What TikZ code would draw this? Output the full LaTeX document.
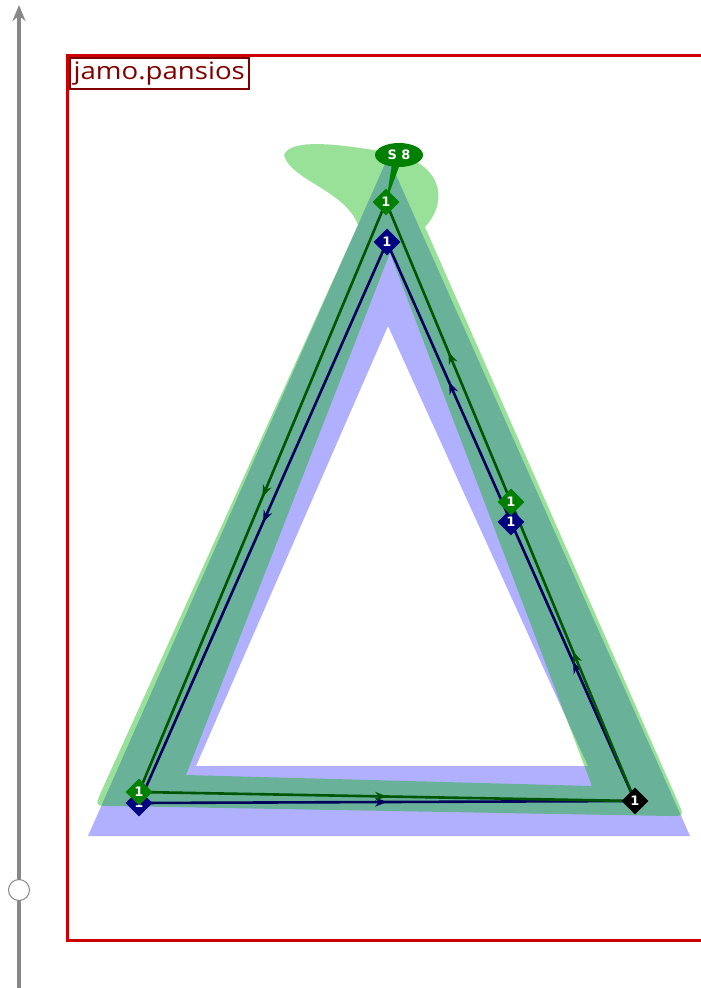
\documentclass[tikz,border=0pt]{standalone}
\usepackage{fontspec}
\setmainfont{DejaVu Sans}
\newfontfamily\labelfont{Open Sans}
\usetikzlibrary{arrows.meta,decorations.markings,shapes.geometric,calc}
\definecolor{bandblue}{RGB}{176,176,255}
\definecolor{bandgreen}{RGB}{0,180,0}
\definecolor{glinec}{RGB}{0,85,0}
\definecolor{blinec}{RGB}{0,0,90}
\definecolor{gnode}{RGB}{0,128,0}
\definecolor{bnode}{RGB}{0,0,128}
\definecolor{framered}{RGB}{204,0,0}
\definecolor{labelred}{RGB}{128,0,0}
\definecolor{axisgray}{RGB}{136,136,136}
\pgfdeclarelayer{bands}
\pgfdeclarelayer{lines}
\pgfsetlayers{bands,lines,main}
\begin{document}
\begin{tikzpicture}[x=1pt,y=-1pt,
  dmd/.style={diamond, inner sep=0pt, minimum size=27pt, text=white,
    font=\bfseries\fontsize{13}{13}\selectfont},
  gdmd/.style={dmd, fill=gnode},
  bdmd/.style={dmd, fill=bnode},
  kdmd/.style={dmd, fill=black},
  midarrow/.style={postaction={decorate}, decoration={markings,
    mark=at position 0.5 with {\arrow{Stealth[length=12pt,width=9pt]}}}},
  gline/.style={draw=glinec, line width=2.6pt, midarrow},
  bline/.style={draw=blinec, line width=2.6pt, midarrow},
]
\useasboundingbox (0,0) rectangle (701,988);

% nodes
\node[bdmd] (bT) at (387,242) {1};
\node[bdmd] (bR) at (511,522) {1};
\node[bdmd] (bL) at (139,803) {1};
\node[kdmd] (k) at (635,801) {1};
\node[gdmd] (gT) at (386,202) {1};
\node[gdmd] (gR) at (511,502) {1};
\node[gdmd] (gL) at (139,792) {1};
\node[ellipse, fill=gnode, text=white, minimum width=48pt, minimum height=24pt,
  inner sep=0pt, font=\bfseries\fontsize{13}{13}\selectfont] (s8) at (399,155) {S 8};

% bands
\begin{pgfonlayer}{bands}
\fill[bandblue, even odd rule]
  (388,157) -- (88,836) -- (690,836) -- cycle
  (388,326) -- (196,766) -- (588,766) -- cycle;
\fill[bandgreen, fill opacity=0.4, even odd rule]
  (358,225) -- (101,792) .. controls (95,806) .. (112,806)
  -- (670,816) .. controls (684,816) .. (678,802)
  -- (425,227) .. controls (450,200) and (442,160) .. (385,152)
  .. controls (340,144) and (290,138) .. (284,155)
  .. controls (290,180) and (345,190) .. (358,225) -- cycle
  (390,253) -- (186,775) -- (592,786) -- cycle;
\end{pgfonlayer}

% lines
\begin{pgfonlayer}{lines}
\draw[bline] (bT.center) -- (bL.center);
\draw[bline] (bL.center) -- (k.center);
\draw[bline] (k.center) -- (bR.center);
\draw[bline] (bR.center) -- (bT.center);
\draw[gline] (gT.center) -- (gL.center);
\draw[gline] (gL.center) -- (k.center);
\draw[gline] (k.center) -- (gR.center);
\draw[gline] (gR.center) -- (gT.center);
\fill[gnode] ($(s8.center)+(-7,9)$) -- ($(s8.center)+(1,9)$) -- (gT.center) -- cycle;
\end{pgfonlayer}

% frame
\draw[framered, line width=3pt] (705,55) -- (67,55) -- (67,940) -- (705,940);
\node[anchor=north west, draw=labelred, line width=1.5pt, fill=white, text=labelred,
  inner sep=0pt, minimum width=179pt, minimum height=31pt,
  font=\labelfont\fontsize{24}{24}\selectfont]
  (lbl) at (69,57) {\scalebox{1.15}[1]{jamo.pansios}};

% axis
\coordinate (axbot) at (19,990);
\coordinate (axtop) at (19,5);
\draw[axisgray, line width=4pt, -{Stealth[length=16pt,width=13pt]}] (axbot) -- (axtop);
\node[circle, draw=axisgray, line width=1pt, fill=white, minimum size=21pt, inner sep=0pt]
  (knob) at (19,890) {};
\end{tikzpicture}
\end{document}
